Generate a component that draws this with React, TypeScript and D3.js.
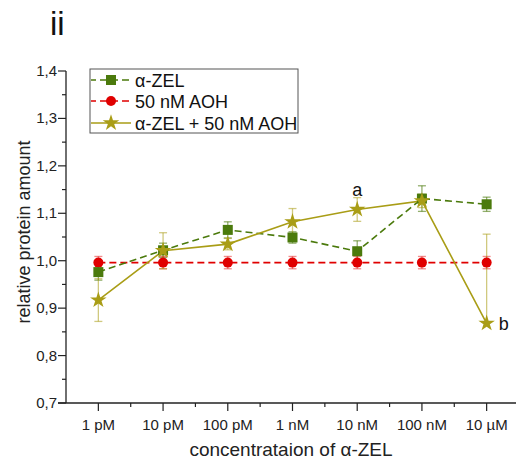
import React from "react";
import * as d3 from "d3";

const categories = ["1 pM", "10 pM", "100 pM", "1 nM", "10 nM", "100 nM", "10 µM"];
const yTicks = [0.7, 0.8, 0.9, 1.0, 1.1, 1.2, 1.3, 1.4];

const zelValues = [0.976, 1.022, 1.065, 1.049, 1.02, 1.131, 1.119];
const zelErr = [0.017, 0.015, 0.017, 0.012, 0.022, 0.027, 0.015];

const aohValues = [0.996, 0.996, 0.996, 0.996, 0.996, 0.996, 0.996];
const aohErr = [0.013, 0.013, 0.013, 0.013, 0.013, 0.013, 0.013];

const mixValues = [0.917, 1.021, 1.035, 1.082, 1.108, 1.126, 0.868];
const mixErrUp = [0.045, 0.038, 0.012, 0.028, 0.025, 0.014, 0.188];
const mixErrDown = [0.045, 0.038, 0.012, 0.028, 0.025, 0.014, 0];

const W = 516, H = 461;
const left = 66, right = 519, top = 71, bottom = 403;

const GREEN = "#4b7a0c";
const RED = "#e00000";
const OLIVE = "#a99d16";
const FONT = "Arial, 'Liberation Sans', sans-serif";

export default function App() {
  const x = d3.scaleLinear().domain([-0.5, categories.length - 0.5]).range([left, right]);
  const y = d3.scaleLinear().domain([0.7, 1.4]).range([bottom, top]);
  const line = d3.line<number>().x((_, i) => x(i)).y((v) => y(v));
  const star = d3.symbol().type(d3.symbolStar).size(85)() as string;

  const minorY = d3.range(0.75, 1.4, 0.1);
  const minorX = d3.range(0, categories.length).map((i) => i + 0.5);

  const errBars = (vals: number[], up: number[], down: number[], color: string, op: number) =>
    vals.map((v, i) => {
      const cx = x(i);
      const y1 = y(v + up[i]);
      const y2 = y(v - down[i]);
      return (
        <g key={i} stroke={color} strokeOpacity={op} strokeWidth={1.3}>
          <line x1={cx} x2={cx} y1={y1} y2={y2} />
          {up[i] > 0 && <line x1={cx - 4} x2={cx + 4} y1={y1} y2={y1} />}
          {down[i] > 0 && <line x1={cx - 4} x2={cx + 4} y1={y2} y2={y2} />}
        </g>
      );
    });

  return (
    <svg width={W} height={H} style={{ position: "absolute", left: 0, top: 0 }} fontFamily={FONT}>
      <rect width={W} height={H} fill="white" />
      <text x={50} y={35} fontSize={33} fill="#111">ii</text>

      {/* error bars */}
      {errBars(zelValues, zelErr, zelErr, GREEN, 0.6)}
      {errBars(aohValues, aohErr, aohErr, RED, 0.45)}
      {errBars(mixValues, mixErrUp, mixErrDown, OLIVE, 0.55)}

      {/* lines */}
      <path d={line(aohValues) as string} fill="none" stroke={RED} strokeWidth={1.6} strokeDasharray="7,4" />
      <path d={line(zelValues) as string} fill="none" stroke={GREEN} strokeWidth={1.6} strokeDasharray="7,4" />
      <path d={line(mixValues) as string} fill="none" stroke={OLIVE} strokeWidth={1.6} />

      {/* markers */}
      {aohValues.map((v, i) => (
        <circle key={"c" + i} cx={x(i)} cy={y(v)} r={5} fill={RED} />
      ))}
      {zelValues.map((v, i) => (
        <rect key={"s" + i} x={x(i) - 5} y={y(v) - 5} width={10} height={10} fill={GREEN} />
      ))}
      {mixValues.map((v, i) => (
        <path key={"t" + i} d={star} transform={`translate(${x(i)},${y(v)})`} fill={OLIVE} />
      ))}

      {/* annotations */}
      <text x={x(4)} y={y(1.108) - 13} fontSize={18} textAnchor="middle" fill="#111">a</text>
      <text x={x(6) + 12} y={y(0.868) + 7} fontSize={18} fill="#111">b</text>

      {/* axes */}
      <line x1={left} x2={left} y1={top} y2={bottom} stroke="#222" strokeWidth={1.3} />
      <line x1={left - 8} x2={right} y1={bottom} y2={bottom} stroke="#222" strokeWidth={1.3} />
      {yTicks.map((t) => (
        <g key={t}>
          <line x1={left - 8} x2={left} y1={y(t)} y2={y(t)} stroke="#222" strokeWidth={1.2} />
          <text x={left - 9} y={y(t) + 5} fontSize={15} textAnchor="end" fill="#222">
            {t.toFixed(1).replace(".", ",")}
          </text>
        </g>
      ))}
      {minorY.map((t) => (
        <line key={"my" + t} x1={left - 4} x2={left} y1={y(t)} y2={y(t)} stroke="#222" strokeWidth={1.2} />
      ))}
      {categories.map((c, i) => (
        <g key={c}>
          <line x1={x(i)} x2={x(i)} y1={bottom} y2={bottom + 8} stroke="#222" strokeWidth={1.2} />
          <text x={x(i)} y={bottom + 27} fontSize={15} textAnchor="middle" fill="#222">{c}</text>
        </g>
      ))}
      {minorX.map((t) => (
        <line key={"mx" + t} x1={x(t)} x2={x(t)} y1={bottom} y2={bottom + 4} stroke="#222" strokeWidth={1.2} />
      ))}
      <text x={291} y={456} fontSize={19} textAnchor="middle" fill="#222">concentrataion of α-ZEL</text>
      <text transform={`translate(30,232) rotate(-90)`} fontSize={18} textAnchor="middle" fill="#222">
        relative protein amount
      </text>

      {/* legend */}
      <rect x={90} y={69} width={208} height={64} fill="white" stroke="#555" strokeWidth={1} />
      <g>
        <line x1={91} x2={131} y1={80} y2={80} stroke={GREEN} strokeWidth={1.6} strokeDasharray="7,4" strokeDashoffset={2} />
        <rect x={106} y={75} width={10} height={10} fill={GREEN} />
        <text x={135} y={86.5} fontSize={18} fill="#111">α-ZEL</text>
        <line x1={91} x2={131} y1={101} y2={101} stroke={RED} strokeWidth={1.6} strokeDasharray="7,4" strokeDashoffset={2} />
        <circle cx={111} cy={101} r={5} fill={RED} />
        <text x={135} y={107.5} fontSize={18} fill="#111">50 nM AOH</text>
        <line x1={91} x2={131} y1={123} y2={123} stroke={OLIVE} strokeWidth={1.6} />
        <path d={star} transform="translate(111,123)" fill={OLIVE} />
        <text x={135} y={129.5} fontSize={18} fill="#111">α-ZEL + 50 nM AOH</text>
      </g>
    </svg>
  );
}
